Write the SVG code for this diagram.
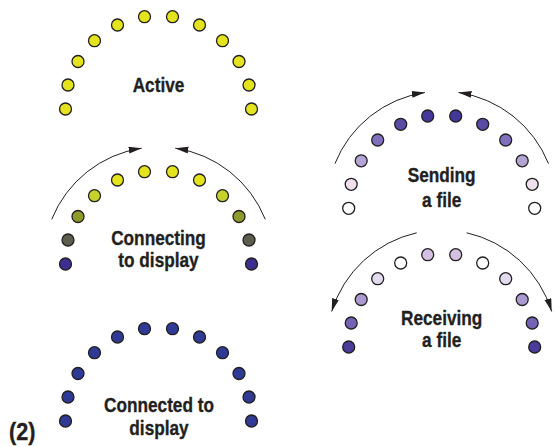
<svg xmlns="http://www.w3.org/2000/svg" width="558" height="447" viewBox="0 0 558 447">
<style>
circle{stroke:#231f20;stroke-width:1.3}
.y{fill:#e3e31e}
.b{fill:#2e3a94}
.arc{fill:none;stroke:#231f20;stroke-width:1}
text{font-family:"Liberation Sans",Arial,sans-serif;font-weight:bold;font-size:21px;fill:#231f20;stroke:#231f20;stroke-width:0.35;text-anchor:middle}
</style>
<defs>
<marker id="ah" markerUnits="userSpaceOnUse" markerWidth="14" markerHeight="8" refX="13" refY="3.5" orient="auto">
<path d="M0,0 L13,3.5 L0,7 Z" fill="#231f20"/>
</marker>
</defs>
<rect width="558" height="447" fill="#ffffff"/>
<g id="connectors">
<path class="arc" d="M51.7,219.4 A115,115 0 0 1 141.7,148.2" marker-end="url(#ah)"/>
<path class="arc" d="M265.3,219.4 A115,115 0 0 0 175.3,148.2" marker-end="url(#ah)"/>
<path class="arc" d="M334.9,163.7 A115,115 0 0 1 424.9,92.5" marker-end="url(#ah)"/>
<path class="arc" d="M548.5,163.7 A115,115 0 0 0 458.5,92.5" marker-end="url(#ah)"/>
<path class="arc" d="M416.7,232.8 A115,115 0 0 0 331.7,311.5" marker-end="url(#ah)"/>
<path class="arc" d="M466.7,232.8 A115,115 0 0 1 551.7,311.5" marker-end="url(#ah)"/>
</g>
<g id="active">
<circle class="y" cx="65.5" cy="109" r="6"/>
<circle class="y" cx="68" cy="85" r="6"/>
<circle class="y" cx="78" cy="61.5" r="6"/>
<circle class="y" cx="94.5" cy="40.7" r="6"/>
<circle class="y" cx="117.5" cy="25" r="6"/>
<circle class="y" cx="144.5" cy="16.7" r="6"/>
<circle class="y" cx="172.5" cy="16.7" r="6"/>
<circle class="y" cx="199.5" cy="25" r="6"/>
<circle class="y" cx="222.5" cy="40.7" r="6"/>
<circle class="y" cx="239" cy="61.5" r="6"/>
<circle class="y" cx="249" cy="85" r="6"/>
<circle class="y" cx="251.5" cy="109" r="6"/>
<text transform="translate(158.5,92) scale(0.82,1)">Active</text>
</g>
<g id="connecting">
<circle fill="#3b2f90" cx="65.5" cy="264" r="6"/>
<circle fill="#5d5e4c" cx="68" cy="240" r="6"/>
<circle fill="#8f9a2c" cx="78" cy="216.5" r="6"/>
<circle fill="#c5d22a" cx="94.5" cy="195.7" r="6"/>
<circle class="y" cx="117.5" cy="180" r="6"/>
<circle class="y" cx="144.5" cy="171.7" r="6"/>
<circle class="y" cx="172.5" cy="171.7" r="6"/>
<circle class="y" cx="199.5" cy="180" r="6"/>
<circle fill="#c5d22a" cx="222.5" cy="195.7" r="6"/>
<circle fill="#8f9a2c" cx="239" cy="216.5" r="6"/>
<circle fill="#5d5e4c" cx="249" cy="240" r="6"/>
<circle fill="#3b2f90" cx="251.5" cy="264" r="6"/>
<text transform="translate(158.5,245) scale(0.82,1)">Connecting</text>
<text transform="translate(158.5,267.2) scale(0.82,1)">to display</text>
</g>
<g id="connected">
<circle class="b" cx="65.5" cy="421" r="6"/>
<circle class="b" cx="68" cy="397" r="6"/>
<circle class="b" cx="78" cy="373.5" r="6"/>
<circle class="b" cx="94.5" cy="352.7" r="6"/>
<circle class="b" cx="117.5" cy="337" r="6"/>
<circle class="b" cx="144.5" cy="328.7" r="6"/>
<circle class="b" cx="172.5" cy="328.7" r="6"/>
<circle class="b" cx="199.5" cy="337" r="6"/>
<circle class="b" cx="222.5" cy="352.7" r="6"/>
<circle class="b" cx="239" cy="373.5" r="6"/>
<circle class="b" cx="249" cy="397" r="6"/>
<circle class="b" cx="251.5" cy="421" r="6"/>
<text transform="translate(159,412.3) scale(0.82,1)">Connected to</text>
<text transform="translate(159,435) scale(0.82,1)">display</text>
</g>
<g id="sending">
<circle fill="#ffffff" cx="348.7" cy="208.3" r="6"/>
<circle fill="#eee0ec" cx="351.2" cy="184.3" r="6"/>
<circle fill="#b4a4d4" cx="361.2" cy="160.8" r="6"/>
<circle fill="#8070bc" cx="377.7" cy="140" r="6"/>
<circle fill="#5a4ca4" cx="400.7" cy="124.3" r="6"/>
<circle fill="#45389c" cx="427.7" cy="116" r="6"/>
<circle fill="#45389c" cx="455.7" cy="116" r="6"/>
<circle fill="#5a4ca4" cx="482.7" cy="124.3" r="6"/>
<circle fill="#8070bc" cx="505.7" cy="140" r="6"/>
<circle fill="#b4a4d4" cx="522.2" cy="160.8" r="6"/>
<circle fill="#eee0ec" cx="532.2" cy="184.3" r="6"/>
<circle fill="#ffffff" cx="534.7" cy="208.3" r="6"/>
<text transform="translate(441.7,181.7) scale(0.82,1)">Sending</text>
<text transform="translate(441.7,206.7) scale(0.82,1)">a file</text>
</g>
<g id="receiving">
<circle fill="#4b3c9c" cx="348.7" cy="347" r="6"/>
<circle fill="#7463b4" cx="351.2" cy="323" r="6"/>
<circle fill="#ab9ad0" cx="361.2" cy="299.5" r="6"/>
<circle fill="#e2daee" cx="377.7" cy="278.7" r="6"/>
<circle fill="#ffffff" cx="400.7" cy="263" r="6"/>
<circle fill="#d4c0e2" cx="427.7" cy="254.7" r="6"/>
<circle fill="#d4c0e2" cx="455.7" cy="254.7" r="6"/>
<circle fill="#ffffff" cx="482.7" cy="263" r="6"/>
<circle fill="#e2daee" cx="505.7" cy="278.7" r="6"/>
<circle fill="#ab9ad0" cx="522.2" cy="299.5" r="6"/>
<circle fill="#7463b4" cx="532.2" cy="323" r="6"/>
<circle fill="#4b3c9c" cx="534.7" cy="347" r="6"/>
<text transform="translate(441.7,324.5) scale(0.82,1)">Receiving</text>
<text transform="translate(441.7,347) scale(0.82,1)">a file</text>
</g>
<g id="figlabel">
<text transform="translate(9,440) scale(0.9,1)" style="text-anchor:start;font-size:24px">(2)</text>
</g>
</svg>
